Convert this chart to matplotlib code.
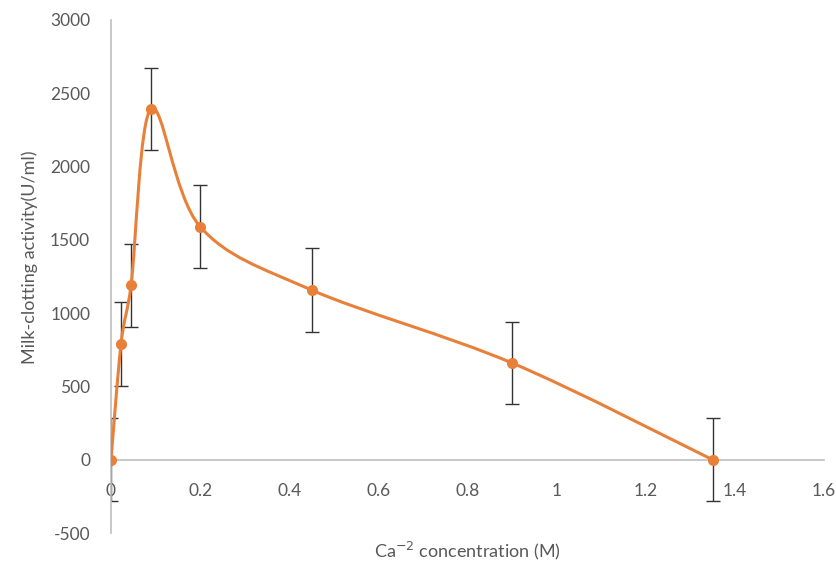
import matplotlib
matplotlib.use("Agg")
import matplotlib.pyplot as plt
from matplotlib.path import Path
from matplotlib.patches import PathPatch
import numpy as np

# Data
ca_conc = [0, 0.0225, 0.045, 0.09, 0.2, 0.45, 0.9, 1.35]
activity = [0, 790, 1190, 2395, 1590, 1158, 660, 0]
errors = [285, 285, 285, 280, 285, 285, 282, 285]
x_ticks = [0, 0.2, 0.4, 0.6, 0.8, 1, 1.2, 1.4, 1.6]
x_tick_labels = ["0", "0.2", "0.4", "0.6", "0.8", "1", "1.2", "1.4", "1.6"]
y_ticks = [-500, 0, 500, 1000, 1500, 2000, 2500, 3000]

ORANGE = "#E8803A"
GRAY_TXT = "#595959"
AXIS_GRAY = "#BFBFBF"

plt.rcParams['font.family'] = ['Lato', 'DejaVu Sans']
plt.rcParams['axes.unicode_minus'] = False

fig = plt.figure(figsize=(8.37, 5.68), dpi=100)
ax = fig.add_axes([111/837, 1 - 533/568, (824-111)/837, (533-20)/568])

ax.set_xlim(0, 1.6)
ax.set_ylim(-500, 3000)

# Smooth (Excel-like) curve: Catmull-Rom style cubic Bezier segments in display space
disp = ax.transData.transform(np.column_stack([ca_conc, activity]).astype(float))
n = len(disp)

def offset(a, b, seg_len):
    o = (b - a) / 6.0
    m = np.hypot(*o)
    if m > seg_len / 2.0 and m > 0:
        o = o * (seg_len / 2.0) / m
    return o

verts = [disp[0]]
codes = [Path.MOVETO]
for i in range(n - 1):
    p_prev = disp[i - 1] if i > 0 else disp[i]
    p0 = disp[i]
    p1 = disp[i + 1]
    p_next = disp[i + 2] if i + 2 < n else disp[i + 1]
    d = np.hypot(*(p1 - p0))
    c1 = p0 + offset(p_prev, p1, d)
    c2 = p1 - offset(p0, p_next, d)
    verts += [c1, c2, p1]
    codes += [Path.CURVE4] * 3
verts_data = ax.transData.inverted().transform(np.array(verts))
path = Path(verts_data, codes)
ax.add_patch(PathPatch(path, facecolor='none', edgecolor=ORANGE, lw=2.2, zorder=3))

ax.errorbar(ca_conc, activity, yerr=errors, fmt='none', ecolor='#333333',
            elinewidth=1.0, capsize=5, capthick=1.0, zorder=2)
ax.plot(ca_conc, activity, 'o', color=ORANGE, markersize=7, zorder=4)

# Axes styling
for s in ['top', 'right']:
    ax.spines[s].set_visible(False)
ax.spines['bottom'].set_position(('data', 0))
ax.spines['bottom'].set_color(AXIS_GRAY)
ax.spines['left'].set_color(AXIS_GRAY)
ax.spines['bottom'].set_linewidth(1.2)
ax.spines['left'].set_linewidth(1.2)

ax.set_xticks(x_ticks)
ax.set_xticklabels(x_tick_labels)
ax.set_yticks(y_ticks)
ax.tick_params(axis='both', length=0, labelsize=12.5, colors=GRAY_TXT)
ax.tick_params(axis='x', pad=17)
ax.tick_params(axis='y', pad=15)

fig.text(467/837, 1 - 551/568, "Ca$^{-2}$ concentration (M)", ha='center', va='center',
         fontsize=13, color=GRAY_TXT)
fig.text(30/837, 1 - 257/568, "Milk-clotting activity(U/ml)", ha='center', va='center',
         rotation=90, fontsize=13, color=GRAY_TXT)

fig.savefig("out.png", dpi=100)
